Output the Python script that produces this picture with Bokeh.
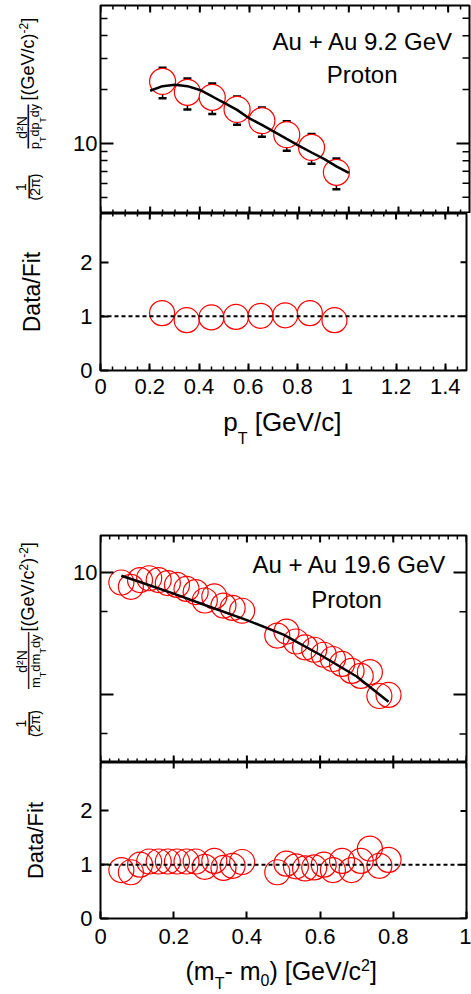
import math
from bokeh.plotting import figure
from bokeh.models import (Range1d, FixedTicker, LinearAxis, LogAxis, Label, Span,
                          Whisker, TeeHead, ColumnDataSource, CustomJSTickFormatter)
from bokeh.layouts import column, row
from bokeh.embed import file_html
from bokeh.resources import INLINE

FONT = "Liberation Sans"

# ---------------- data ----------------
# Au+Au 9.2 GeV, proton, pT spectrum
pt_x = [0.25, 0.35, 0.45, 0.55, 0.65, 0.75, 0.85, 0.95]
pt_y = [22.2, 19.3, 18.1, 15.5, 13.4, 11.2, 9.5, 6.9]
pt_err = [4.3, 3.8, 3.5, 2.8, 2.5, 2.1, 1.8, 1.35]
pt_ratio = [1.06, 0.93, 0.98, 0.99, 1.01, 1.02, 1.06, 0.93]
pt_fit_x = [0.20, 0.25, 0.30, 0.35, 0.40, 0.45, 0.50, 0.55, 0.60, 0.65, 0.70,
            0.75, 0.80, 0.85, 0.90, 0.95, 1.00]
pt_fit_y = [19.7, 20.9, 21.3, 20.9, 19.9, 18.3, 16.8, 15.4, 13.8, 12.7, 11.6,
            10.6, 9.7, 8.9, 8.2, 7.45, 6.85]

# Au+Au 19.6 GeV, proton, (mT - m0) spectrum
mt_x = [0.057, 0.083, 0.108, 0.133, 0.159, 0.184, 0.209, 0.235, 0.260, 0.285,
        0.311, 0.336, 0.361, 0.387,
        0.483, 0.508, 0.534, 0.559, 0.584, 0.610, 0.635, 0.660, 0.686, 0.711,
        0.736, 0.762, 0.787]
mt_y = [9.45, 9.22, 9.58, 9.68, 9.58, 9.42, 9.32, 9.11, 8.95, 8.53, 8.73, 8.29, 8.18, 8.05,
        6.99, 7.15, 6.76, 6.54, 6.45, 6.27, 6.12, 5.95, 5.72, 5.56, 5.68, 4.96, 4.99]
mt_ratio = [0.90, 0.86, 1.00, 1.06, 1.06, 1.06, 1.06, 1.06, 1.06, 0.96, 1.07, 0.94, 0.98, 1.05,
            0.86, 1.02, 0.97, 0.93, 0.95, 1.00, 0.90, 1.07, 0.90, 1.07, 1.30, 0.98, 1.09]
mt_fit_x = [0.057, 0.1, 0.2, 0.3, 0.4, 0.5, 0.6, 0.7, 0.787]
mt_fit_y = [9.82, 9.53, 8.87, 8.22, 7.63, 7.03, 6.27, 5.54, 4.80]

# ticks
pt_x_ticks = [0, 0.2, 0.4, 0.6, 0.8, 1.0, 1.2, 1.4]
pt_x_minor = [k * 0.05 for k in range(30)]
mt_x_ticks = [0, 0.2, 0.4, 0.6, 0.8, 1.0]
mt_x_minor = [k * 0.025 for k in range(41)]
ratio_y_ticks = [0, 1, 2]
pt_y_ticks = [10]
pt_y_minor = [5, 6, 7, 8, 9, 20, 30, 40, 50]
mt_y_ticks = [10]
mt_y_long = [5]
mt_y_minor = [4, 8]

# ---------------- helpers ----------------
EM = {' ': .278, '(': .333, ')': .333, '[': .278, ']': .278, '/': .278, '-': .333,
      '+': .584, '.': .278, 'A': .667, 'G': .778, 'V': .667, 'N': .722, 'T': .611,
      'P': .667, 'a': .556, 'c': .5, 'd': .556, 'e': .556, 'm': .833, 'n': .556,
      'o': .556, 'p': .556, 'r': .333, 't': .278, 'u': .556, 'y': .5, 'π': .57,
      '²': .333, '—': 1.0}
K = 0.33  # empirical baseline correction (fraction of font size)


def width_em(s):
    return sum(EM.get(c, .556) for c in s)


fmt = CustomJSTickFormatter(code="return (Math.round(tick*10)/10).toString();")


def text_fig(w, h):
    p = figure(width=w, height=h, x_range=Range1d(0, w), y_range=Range1d(-h, 0),
               x_axis_location=None, y_axis_location=None, min_border=0,
               output_backend="svg", toolbar_location=None)
    p.outline_line_color = None
    p.grid.grid_line_color = None
    p.background_fill_color = "white"
    p.border_fill_color = "white"
    return p


def put(p, org, sx, sy, text, size, align="left", angle=0.0):
    """place a text label; org = (left, top) of the canvas on the page, sx/sy = baseline point"""
    if angle == 0.0:
        sy -= K * size
    else:
        sx -= K * size
    p.add_layout(Label(x=sx - org[0], y=sy - org[1], x_units="canvas", y_units="canvas",
                       text=text, text_font=FONT, text_font_size=f"{size}px",
                       text_align=align, text_baseline="alphabetic", angle=angle,
                       text_color="black"))


def hrun(p, org, sx, sy, pieces):
    for text, size, dy in pieces:
        lead = len(text) - len(text.lstrip(" "))
        sx += lead * EM[' '] * size
        text = text.lstrip(" ")
        put(p, org, sx, sy + dy, text, size)
        sx += width_em(text) * size


def vrun(p, org, sx, sy, pieces):
    for text, size, dx in pieces:
        put(p, org, sx + dx, sy, text, size, angle=math.pi / 2)
        sy -= width_em(text) * size


def style_axis(ax, tin, min_in, size="22px", standoff=5):
    ax.major_tick_in = tin
    ax.major_tick_out = 0
    ax.minor_tick_in = min_in
    ax.minor_tick_out = 0
    ax.major_tick_line_width = 2
    ax.minor_tick_line_width = 1.5
    ax.major_tick_line_color = "black"
    ax.minor_tick_line_color = "black"
    ax.axis_line_color = None
    ax.major_label_text_font = FONT
    ax.major_label_text_color = "black"
    ax.major_label_text_font_size = size
    ax.major_label_standoff = standoff


def make_fig(w, h, xr, yr, ylog, bl, br, bt, bb):
    p = figure(width=w, height=h, x_range=xr, y_range=yr,
               y_axis_type="log" if ylog else "linear",
               x_axis_location=None, y_axis_location=None,
               output_backend="svg", toolbar_location=None,
               min_border_left=bl, min_border_right=br,
               min_border_top=bt, min_border_bottom=bb)
    p.grid.grid_line_color = None
    p.outline_line_color = "black"
    p.outline_line_width = 2
    p.background_fill_color = "white"
    p.border_fill_color = "white"
    return p


def x_ticks_at(p, y, ticks, length, width):
    p.scatter(x=ticks, y=[y] * len(ticks), marker="dash", angle=math.pi / 2,
              size=2 * length, line_color="black", line_width=width)


def y_ticks_at(p, x, ticks, length, width):
    p.scatter(x=[x] * len(ticks), y=ticks, marker="dash", angle=0,
              size=2 * length, line_color="black", line_width=width)


def left_axis(p, ylog, major, minor, tin, min_in, standoff, title=None, tstand=0,
              tsize="23px"):
    cls = LogAxis if ylog else LinearAxis
    ax = cls(ticker=FixedTicker(ticks=major, minor_ticks=minor), formatter=fmt)
    style_axis(ax, tin, min_in, standoff=standoff)
    if title:
        ax.axis_label = title
        ax.axis_label_text_font = FONT
        ax.axis_label_text_font_size = tsize
        ax.axis_label_text_font_style = "normal"
        ax.axis_label_text_color = "black"
        ax.axis_label_standoff = tstand
    p.add_layout(ax, "left")


def below_axis(p, major, minor, standoff):
    ax = LinearAxis(ticker=FixedTicker(ticks=major, minor_ticks=minor), formatter=fmt)
    style_axis(ax, 7, 4, standoff=standoff)
    p.add_layout(ax, "below")


# page heights of the stacked canvases
H_ROW1, H_F2, H_T2, H_ROW2, H_F4, H_T4 = 213, 191, 130, 228, 192, 39
Y_F2 = H_ROW1
Y_T2 = Y_F2 + H_F2
Y_ROW2 = Y_T2 + H_T2
Y_F4 = Y_ROW2 + H_ROW2
Y_T4 = Y_F4 + H_F4
TW = 49  # width of the y-title text strips

# page positions (left, top) of every canvas
O_T1, O_F1 = (0, 0), (TW, 0)
O_T2 = (0, Y_T2)
O_T3, O_F3 = (0, Y_ROW2), (TW, Y_ROW2)
O_T4 = (0, Y_T4)
R = math.pi / 2

# ---------------- panel 1: pT spectrum ----------------
xr1 = Range1d(0, 1.486)
yr1 = Range1d(4.06, 59.0)
f1 = make_fig(471 - TW, H_ROW1, xr1, yr1, True, 100 - TW, 2, 5, 0)
left_axis(f1, True, pt_y_ticks, pt_y_minor, 13, 7, 3)
x_ticks_at(f1, yr1.start, pt_x_ticks, 7, 2)
x_ticks_at(f1, yr1.start, pt_x_minor, 4, 1.5)
x_ticks_at(f1, yr1.end, pt_x_ticks, 7, 2)
x_ticks_at(f1, yr1.end, pt_x_minor, 4, 1.5)
y_ticks_at(f1, xr1.end, pt_y_ticks, 13, 2)
y_ticks_at(f1, xr1.end, pt_y_minor, 7, 1.5)

src1 = ColumnDataSource(dict(x=pt_x, y=pt_y,
                             hi=[v + e for v, e in zip(pt_y, pt_err)],
                             lo=[v - e for v, e in zip(pt_y, pt_err)]))
wh = Whisker(source=src1, base="x", upper="hi", lower="lo", line_width=1.5,
             line_color="black",
             upper_head=TeeHead(size=8, line_width=2.5, line_color="black"),
             lower_head=TeeHead(size=8, line_width=2.5, line_color="black"),
             level="underlay")
f1.add_layout(wh)
f1.scatter("x", "y", source=src1, marker="circle", size=26, line_color="red",
           line_width=1.2, fill_color="white")
f1.line(pt_fit_x, pt_fit_y, line_color="black", line_width=2.5)

put(f1, O_F1, 362.5, 49.3, "Au + Au 9.2 GeV", 24, align="center")
put(f1, O_F1, 361.7, 81.7, "Proton", 24, align="center")

t1 = text_fig(TW, H_ROW1)
put(t1, O_T1, 25.5, 186.5, "1", 14, align="center", angle=R)
put(t1, O_T1, 33.7, 186.5, "—", 23, align="center", angle=R)
put(t1, O_T1, 39, 186.5, "(2π)", 14, align="center", angle=R)
put(t1, O_T1, 26.5, 127, "d²N", 14, align="center", angle=R)
put(t1, O_T1, 33.6, 126, "——", 22, align="center", angle=R)
vrun(t1, O_T1, 39, 148.5, [("p", 12.5, 0), ("T", 9, 6), ("dp", 12.5, 0),
                           ("T", 9, 6), ("dy", 12.5, 0)])
vrun(t1, O_T1, 33, 100, [("[(GeV/c)", 18, 0), ("-2", 12, -6.5), ("]", 18, 0)])

# ---------------- panel 2: pT ratio ----------------
xr2 = Range1d(0, 1.486)
yr2 = Range1d(0, 2.9)
f2 = make_fig(471, H_F2, xr2, yr2, False, 100, 2, 0, 34)
left_axis(f2, False, ratio_y_ticks, [], 8, 0, 8, title="Data/Fit", tstand=32,
          tsize="23px")
below_axis(f2, pt_x_ticks, pt_x_minor, 8)
x_ticks_at(f2, yr2.end, pt_x_ticks, 6, 2)
x_ticks_at(f2, yr2.end, pt_x_minor, 3, 1.5)
y_ticks_at(f2, xr2.end, ratio_y_ticks, 6, 2)
f2.add_layout(Span(location=1, dimension="width", line_color="black",
                   line_width=2, line_dash="4 3"))
f2.scatter(pt_x, pt_ratio, marker="circle", size=25, line_color="red",
           line_width=1.2, fill_alpha=0)

t2 = text_fig(471, H_T2)
hrun(t2, O_T2, 222.7, 430, [("p", 26, 0), ("T", 16, 13.5), (" [GeV/c]", 26, 0)])

# ---------------- panel 3: mT spectrum ----------------
xr3 = Range1d(0, 1.0)
yr3 = Range1d(3.40, 12.34)
f3 = make_fig(471 - TW, H_ROW2, xr3, yr3, True, 100 - TW, 5, 1, 0)
left_axis(f3, True, mt_y_ticks, mt_y_minor, 13, 7, 3)
y_ticks_at(f3, xr3.start, mt_y_long, 13, 2)
y_ticks_at(f3, xr3.end, mt_y_ticks + mt_y_long, 13, 2)
y_ticks_at(f3, xr3.end, mt_y_minor, 7, 1.5)
x_ticks_at(f3, yr3.start, mt_x_ticks, 7, 2)
x_ticks_at(f3, yr3.start, mt_x_minor, 4, 1.5)
x_ticks_at(f3, yr3.end, mt_x_ticks, 7, 2)
x_ticks_at(f3, yr3.end, mt_x_minor, 4, 1.5)
f3.scatter(mt_x, mt_y, marker="circle", size=25, line_color="red",
           line_width=1.2, fill_alpha=0)
f3.line(mt_fit_x, mt_fit_y, line_color="black", line_width=2.5)

put(f3, O_F3, 349, 571.7, "Au + Au 19.6 GeV", 24, align="center")
put(f3, O_F3, 346, 606.7, "Proton", 24, align="center")

t3 = text_fig(TW, H_ROW2)
put(t3, O_T3, 25.5, 723, "1", 14, align="center", angle=R)
put(t3, O_T3, 33.7, 723, "—", 23, align="center", angle=R)
put(t3, O_T3, 39, 723, "(2π)", 14, align="center", angle=R)
put(t3, O_T3, 26.5, 661, "d²N", 14, align="center", angle=R)
put(t3, O_T3, 32.7, 660, "———", 19, align="center", angle=R)
vrun(t3, O_T3, 39, 687.5, [("m", 13, 0), ("T", 9, 6), ("dm", 13, 0),
                           ("T", 9, 6), ("dy", 13, 0)])
vrun(t3, O_T3, 33.5, 631, [("[(GeV/c", 18, 0), ("2", 12, -6.5), (")", 18, 0),
                           ("-2", 12, -6.5), ("]", 18, 0)])

# ---------------- panel 4: mT ratio ----------------
xr4 = Range1d(0, 1.0)
yr4 = Range1d(0, 2.9)
f4 = make_fig(471, H_F4, xr4, yr4, False, 100, 5, 0, 36)
left_axis(f4, False, ratio_y_ticks, [], 8, 0, 8, title="Data/Fit", tstand=29,
          tsize="22px")
below_axis(f4, mt_x_ticks, [], 10)
x_ticks_at(f4, yr4.end, mt_x_ticks, 6, 2)
y_ticks_at(f4, xr4.end, ratio_y_ticks, 6, 2)
f4.add_layout(Span(location=1, dimension="width", line_color="black",
                   line_width=2, line_dash="4 3"))
f4.scatter(mt_x, mt_ratio, marker="circle", size=25, line_color="red",
           line_width=1.2, fill_alpha=0)

t4 = text_fig(471, H_T4)
hrun(t4, O_T4, 185, 978.5, [("(m", 25, 0), ("T", 16, 10), ("- m", 25, 0), ("0", 16, 6),
                            (") [GeV/c", 25, 0), ("2", 16, -9), ("]", 25, 0)])

layout = column(row(t1, f1), f2, t2, row(t3, f3), f4, t4)
open("out.html", "w").write(file_html(layout, INLINE))
